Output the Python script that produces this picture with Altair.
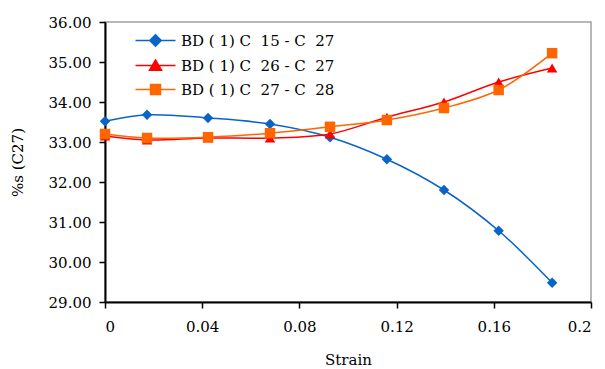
import altair as alt
import pandas as pd

# Strain values at which each series was sampled
strain = [0.0, 0.0173, 0.0424, 0.0679, 0.0926, 0.116, 0.1395, 0.162, 0.184]

# %s (C27) for each biomarker ratio
s_15_27 = [33.52, 33.68, 33.60, 33.45, 33.12, 32.57, 31.80, 30.78, 29.48]
s_26_27 = [33.15, 33.05, 33.10, 33.10, 33.20, 33.62, 34.00, 34.50, 34.85]
s_27_28 = [33.20, 33.10, 33.12, 33.22, 33.38, 33.55, 33.85, 34.30, 35.22]

NB = "\u00a0"
series = [
    f"BD ( 1) C {NB}15 - C {NB}27",
    f"BD ( 1) C {NB}26 - C {NB}27",
    f"BD ( 1) C {NB}27 - C {NB}28",
]
colors = ["#0A64C8", "#FF0000", "#FF6600"]
marker_shapes = ["diamond", "triangle-up", "square"]
# legend glyphs: a short line segment with the marker in the middle
legend_paths = [
    "M-4,0H4M-1.15,0L0,-1.15L1.15,0L0,1.15Z",
    "M-4,0H4M0,-1.1L1.2,0.95L-1.2,0.95Z",
    "M-4,0H4M-1,-1H1V1H-1Z",
]

rows = []
for name, vals in zip(series, [s_15_27, s_26_27, s_27_28]):
    for x, y in zip(strain, vals):
        rows.append({"strain": x, "value": y, "series": name, "label": name})
df = pd.DataFrame(rows)

FONT = "DejaVu Serif"

x_enc = alt.X(
    "strain:Q",
    title="Strain",
    scale=alt.Scale(domain=[0, 0.2], nice=False, zero=False),
    axis=alt.Axis(values=[0, 0.04, 0.08, 0.12, 0.16, 0.2], format=".2~f",
                  grid=False, labelPadding=11, titlePadding=18,
                  labelFont=FONT, titleFont=FONT),
)
y_enc = alt.Y(
    "value:Q",
    title="%s (C27)",
    scale=alt.Scale(domain=[29, 36], nice=False, zero=False),
    axis=alt.Axis(values=[29, 30, 31, 32, 33, 34, 35, 36], format=".2f",
                  grid=False, labelPadding=8, titlePadding=23,
                  labelFont=FONT, titleFont=FONT),
)
color_scale = alt.Scale(domain=series, range=colors)

base = alt.Chart(df).encode(x=x_enc, y=y_enc)

lines = base.mark_line(interpolate="catmull-rom", strokeWidth=1.5).encode(
    color=alt.Color("series:N", scale=color_scale, legend=None),
    detail="series:N",
)

points = base.mark_point(filled=True, size=110, opacity=1).encode(
    color=alt.Color("series:N", scale=color_scale, legend=None),
    shape=alt.Shape("series:N", scale=alt.Scale(domain=series, range=marker_shapes),
                    legend=None),
)

legend_def = alt.Legend(
    title=None, orient="none", legendX=43, legendY=11,
    symbolSize=100, symbolStrokeWidth=1.5, symbolOpacity=1,
    labelOffset=18, labelFont=FONT, labelFontSize=15, labelColor="black",
    rowPadding=7, labelLimit=400, padding=0,
)

legend_layer = base.mark_point(filled=True, size=100, opacity=0, strokeWidth=1.5).encode(
    color=alt.Color("label:N", scale=color_scale, legend=legend_def),
    stroke=alt.Stroke("label:N", scale=color_scale, legend=legend_def),
    shape=alt.Shape("label:N", scale=alt.Scale(domain=series, range=legend_paths),
                    legend=legend_def),
)

chart = (
    alt.layer(lines, points, legend_layer)
    .resolve_scale(color="independent", shape="independent", stroke="independent")
    .properties(
        width=486, height=280,
        autosize=alt.AutoSizeParams(type="none"),
        padding={"left": 105, "top": 22, "right": 14, "bottom": 67},
        background="white",
    )
    .configure(font=FONT)
    .configure_view(stroke="#A0A0A0", strokeWidth=1.5)
    .configure_axis(
        domainColor="black", domainWidth=2, tickColor="black", tickWidth=1.5,
        tickSize=6, labelFont=FONT, labelFontSize=15, labelColor="black",
        titleFont=FONT, titleFontSize=15, titleColor="black",
        titleFontWeight="normal",
    )
)

chart.save("out.html", embed_options={"renderer": "svg", "actions": False})
